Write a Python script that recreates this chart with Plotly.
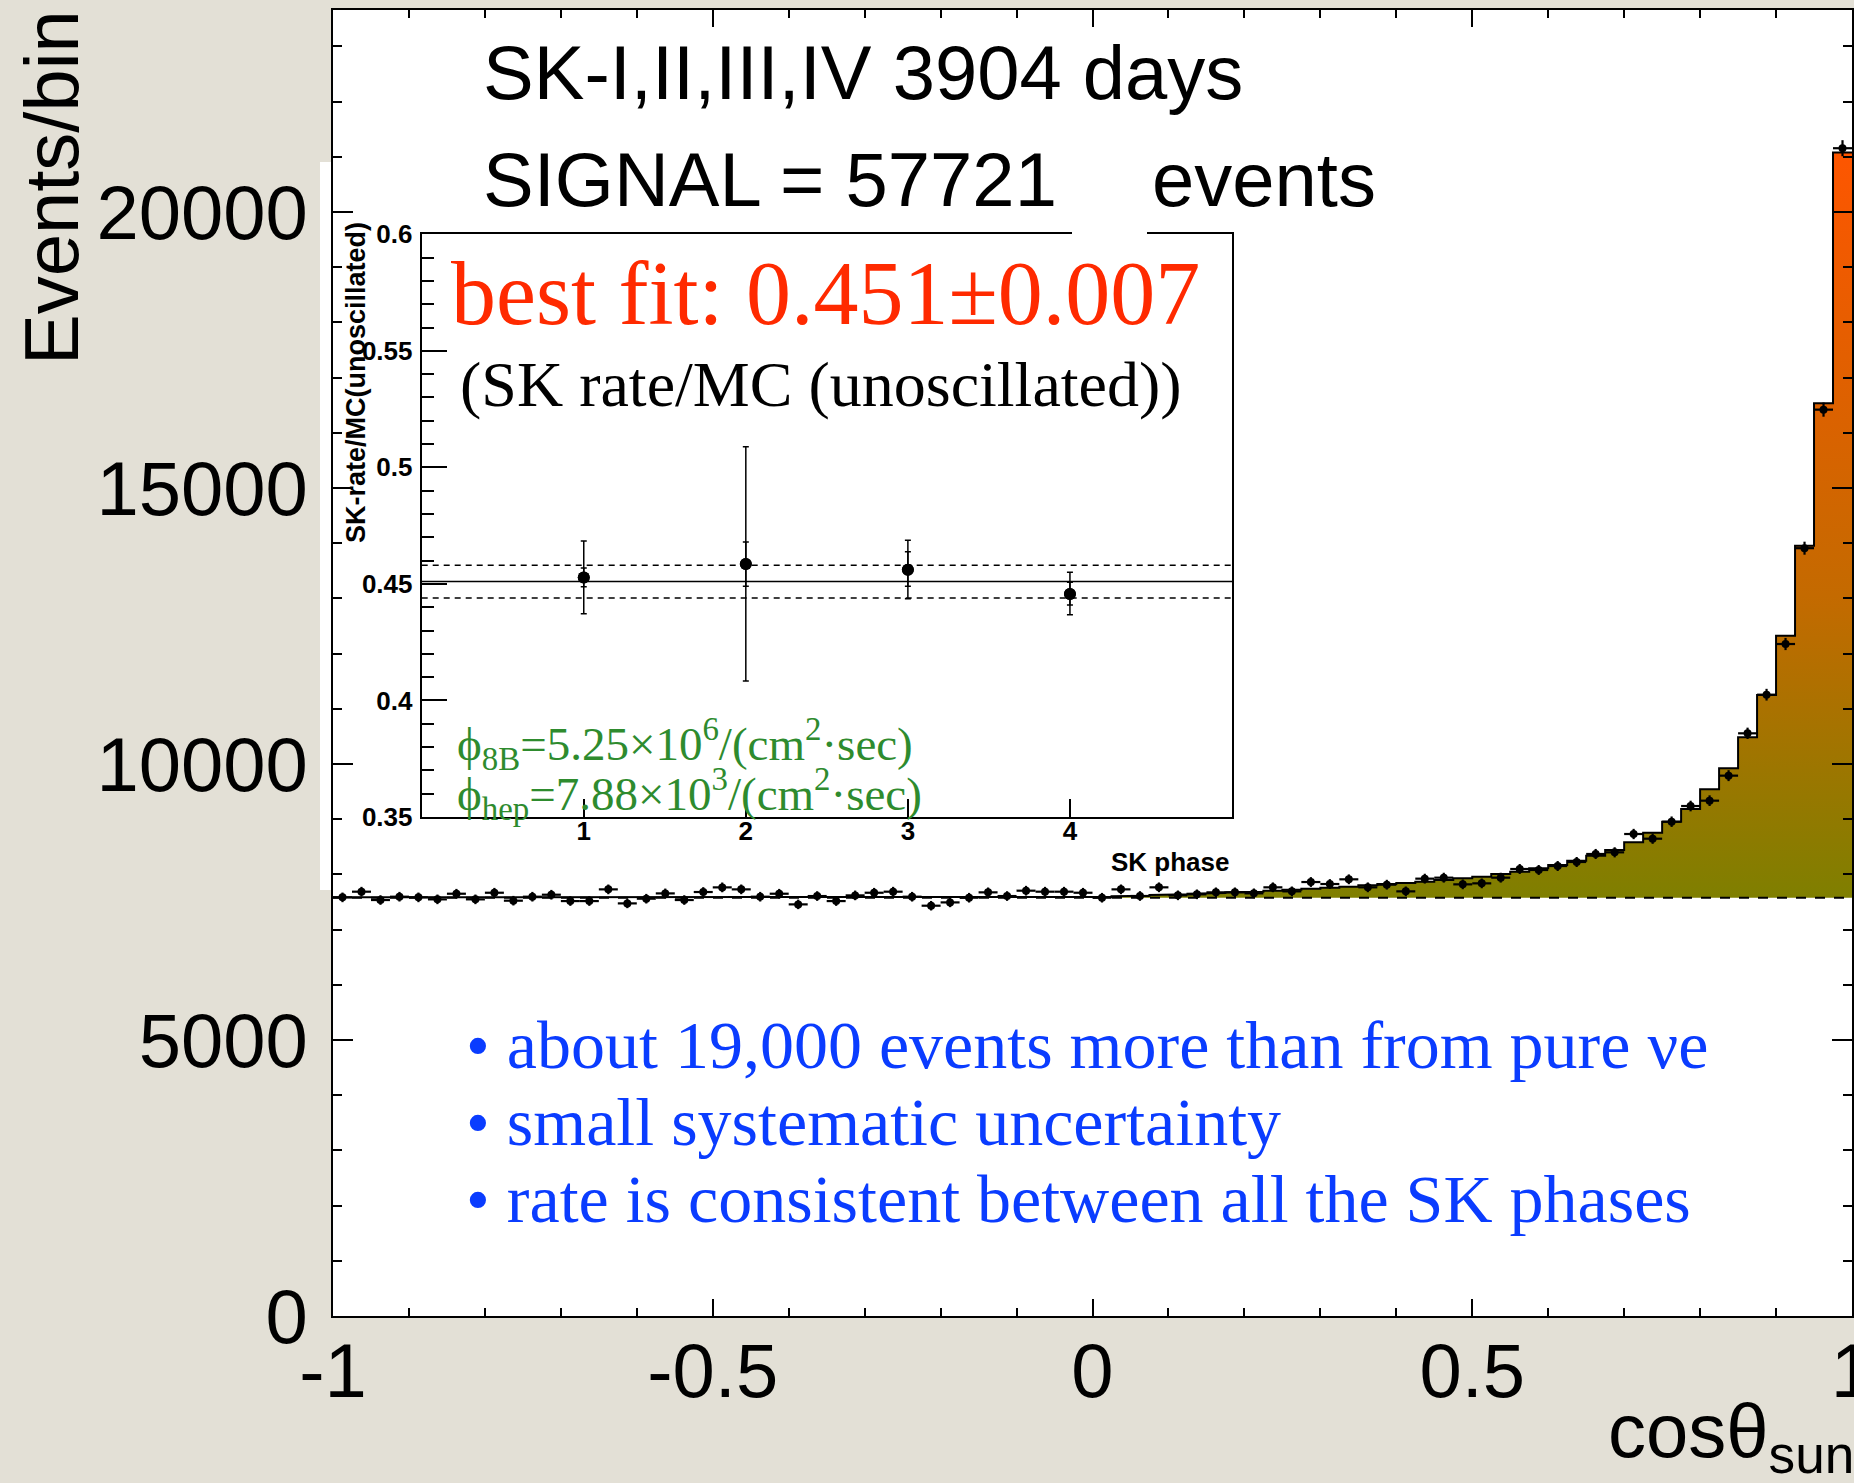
import numpy as np
import plotly.graph_objects as go

# ---- binned cos(theta_sun) distribution, 80 bins from -1 to 1 ----
bin_edges = np.linspace(-1.0, 1.0, 81)
bin_centers = 0.5 * (bin_edges[:-1] + bin_edges[1:])

data_counts = [
    7584, 7687, 7536, 7596, 7584, 7548, 7650, 7548, 7668, 7524,
    7596, 7632, 7517, 7517, 7729, 7475, 7560, 7656, 7536, 7681,
    7765, 7729, 7596, 7650, 7457, 7608, 7517, 7620, 7668, 7687,
    7596, 7433, 7493, 7578, 7675, 7608, 7705, 7687, 7687, 7668,
    7578, 7729, 7609, 7766, 7621, 7639, 7675, 7675, 7657, 7766,
    7693, 7862, 7826, 7911, 7766, 7814, 7693, 7923, 7941, 7820,
    7838, 7941, 8098, 8080, 8152, 8225, 8370, 8400, 8732, 8647,
    8955, 9239, 9336, 9789, 10556, 11256, 12174, 13910, 16420, 21156,
]

mc_counts = [
    7585, 7585, 7585, 7585, 7585, 7585, 7585, 7585, 7585, 7585,
    7585, 7585, 7585, 7585, 7585, 7585, 7585, 7585, 7585, 7585,
    7585, 7585, 7585, 7585, 7585, 7585, 7585, 7585, 7585, 7585,
    7585, 7585, 7586, 7586, 7587, 7587, 7588, 7588, 7589, 7589,
    7592, 7603, 7615, 7627, 7639, 7651, 7663, 7675, 7687, 7705,
    7723, 7742, 7760, 7778, 7802, 7826, 7844, 7869, 7899, 7929,
    7959, 8007, 8050, 8110, 8170, 8249, 8339, 8442, 8581, 8756,
    8955, 9185, 9541, 9922, 10483, 11250, 12325, 13955, 16534, 21080,
]

background_level = 7578

x_tick_vals = [-1, -0.5, 0, 0.5, 1]
x_tick_text = ["-1", "-0.5", "0", "0.5", "1"]
y_tick_vals = [0, 5000, 10000, 15000, 20000]
y_tick_text = ["0", "5000", "10000", "15000", "20000"]

# ---- rate ratio per SK phase ----
sk_phase = [1, 2, 3, 4]
ratio = [0.4528, 0.4585, 0.4561, 0.4457]
ratio_tot_up = [0.0156, 0.0504, 0.0126, 0.0093]
ratio_tot_dn = [0.0156, 0.0501, 0.0125, 0.0089]
ratio_stat_up = [0.0040, 0.0095, 0.0077, 0.0050]
ratio_stat_dn = [0.0040, 0.0095, 0.0071, 0.0047]
best_fit = 0.451
best_fit_err = 0.007
inset_y_ticks = [0.35, 0.4, 0.45, 0.5, 0.55, 0.6]
inset_y_text = ["0.35", "0.4", "0.45", "0.5", "0.55", "0.6"]

# ---- page geometry (pixels) ----
W, H = 1854, 1483
L, R, T, B = 333, 1852, 10, 1316


def px(x):
    return (x - L) / (R - L)


def py(y):
    return (B - y) / (B - T)


data_counts = np.array(data_counts, dtype=float)
mc_counts = np.array(mc_counts, dtype=float)

# step outline of the MC expectation
step_x = np.repeat(bin_edges, 2)[1:-1]
step_y = np.repeat(mc_counts, 2)

fig = go.Figure()

# signal region between background and MC, with vertical colour gradient
fig.add_trace(go.Scatter(
    x=np.concatenate([step_x, [bin_edges[-1], bin_edges[0]]]),
    y=np.concatenate([step_y, [background_level, background_level]]),
    mode="lines", line=dict(width=0), fill="toself",
    fillgradient=dict(type="vertical",
                      colorscale=[[0, "#7f7f00"], [0.4, "#c46a00"], [1, "#ff5500"]],
                      start=background_level, stop=21300),
    hoverinfo="skip", showlegend=False,
))

# flat background level
fig.add_trace(go.Scatter(
    x=[bin_edges[0], bin_edges[-1]], y=[background_level, background_level],
    mode="lines", line=dict(color="black", width=2, dash="10px,9px"),
    showlegend=False, hoverinfo="skip",
))

# MC histogram outline
fig.add_trace(go.Scatter(
    x=step_x, y=step_y, mode="lines",
    line=dict(color="black", width=2), showlegend=False, hoverinfo="skip",
))

# data points
fig.add_trace(go.Scatter(
    x=bin_centers, y=data_counts, mode="markers",
    marker=dict(color="black", size=8),
    error_x=dict(type="constant", value=(bin_edges[1] - bin_edges[0]) / 2,
                 color="black", thickness=2.2, width=0),
    error_y=dict(type="data", array=np.sqrt(data_counts),
                 color="black", thickness=2.2, width=0),
    showlegend=False,
))

# ---- inset: rate / MC per phase ----
for lvl, dash in [(best_fit, "solid"), (best_fit + best_fit_err, "6px,5px"),
                  (best_fit - best_fit_err, "6px,5px")]:
    fig.add_trace(go.Scatter(
        x=[0, 5], y=[lvl, lvl], mode="lines", xaxis="x2", yaxis="y2",
        line=dict(color="black", width=1.5, dash=dash),
        showlegend=False, hoverinfo="skip",
    ))

fig.add_trace(go.Scatter(
    x=sk_phase, y=ratio, mode="markers", xaxis="x2", yaxis="y2",
    marker=dict(color="black", size=12),
    error_y=dict(type="data", symmetric=False, array=ratio_tot_up,
                 arrayminus=ratio_tot_dn, color="black", thickness=1.5, width=3),
    showlegend=False,
))
fig.add_trace(go.Scatter(
    x=sk_phase, y=ratio, mode="markers", xaxis="x2", yaxis="y2",
    marker=dict(color="black", size=12),
    error_y=dict(type="data", symmetric=False, array=ratio_stat_up,
                 arrayminus=ratio_stat_dn, color="black", thickness=1.5, width=3),
    showlegend=False,
))

sans = "Liberation Sans, Arial, sans-serif"
serif = "Liberation Serif, Times New Roman, serif"

fig.update_layout(
    width=W, height=H,
    margin=dict(l=L, r=W - R, t=T, b=H - B, autoexpand=False),
    paper_bgcolor="#e3e0d6",
    plot_bgcolor="white",
    font=dict(family=sans, color="black"),
    xaxis=dict(
        range=[-1, 1], tickvals=x_tick_vals, ticktext=x_tick_text,
        ticks="inside", ticklen=17, tickwidth=1.5, tickcolor="black",
        minor=dict(ticks="inside", dtick=0.1, ticklen=8, tickwidth=1.5, tickcolor="black"),
        showline=True, linecolor="black", linewidth=2, mirror="allticks",
        showgrid=False, zeroline=False,
        tickfont=dict(size=76, family=sans), ticklabelstandoff=-12,
        ticklabeloverflow="allow", automargin=False,
    ),
    yaxis=dict(
        range=[0, 23660], tickvals=y_tick_vals, ticktext=y_tick_text,
        ticks="inside", ticklen=20, tickwidth=1.5, tickcolor="black",
        minor=dict(ticks="inside", dtick=1000, ticklen=9, tickwidth=1.5, tickcolor="black"),
        showline=True, linecolor="black", linewidth=2, mirror="allticks",
        showgrid=False, zeroline=False,
        tickfont=dict(size=76, family=sans), ticklabelstandoff=8,
        ticklabeloverflow="allow", automargin=False,
    ),
    xaxis2=dict(
        domain=[px(421.7), px(1232)], anchor="y2", range=[0, 5],
        tickvals=sk_phase, ticks="inside", ticklen=18, tickwidth=1.5, tickcolor="black",
        showline=True, linecolor="black", linewidth=2, mirror=True,
        showgrid=False, zeroline=False,
        tickfont=dict(size=26, family=sans, weight="bold"), ticklabelstandoff=-10,
    ),
    yaxis2=dict(
        domain=[py(817), py(234.3)], anchor="x2", range=[0.35, 0.6],
        tickvals=inset_y_ticks, ticktext=inset_y_text,
        ticks="inside", ticklen=25, tickwidth=1.5, tickcolor="black",
        minor=dict(ticks="inside", dtick=0.01, ticklen=12, tickwidth=1.5, tickcolor="black"),
        showline=True, linecolor="black", linewidth=2, mirror=True,
        showgrid=False, zeroline=False,
        tickfont=dict(size=26, family=sans, weight="bold"), ticklabelstandoff=2,
    ),
    shapes=[
        # white pad of the inset, showing left of the main frame
        dict(type="rect", xref="paper", yref="paper", layer="below",
             x0=px(320), x1=px(333), y0=py(890), y1=py(162),
             fillcolor="white", line=dict(width=0)),
        # white box behind the gap in the signal line
        dict(type="rect", xref="paper", yref="paper", layer="above",
             x0=px(1072), x1=px(1147), y0=py(241), y1=py(228),
             fillcolor="white", line=dict(width=0)),
    ],
)

ann = []


def text(s, x, y, size, family=sans, color="black", xanchor="left", yanchor="middle", angle=0):
    ann.append(dict(text=s, x=px(x), y=py(y), xref="paper", yref="paper",
                    xanchor=xanchor, yanchor=yanchor, showarrow=False, textangle=angle,
                    font=dict(size=size, family=family, color=color)))


text("SK-I,II,III,IV 3904 days", 481, 72, 76)
text("SIGNAL = 57721", 481, 180, 76)
text("events", 1150, 180, 76)
text("best fit: 0.451±0.007", 449, 294, 90, serif, "#ff2a00")
text("(SK rate/MC (unoscillated))", 458, 384, 64, serif)
green = "#2e8b2e"
text("ϕ<sub>8B</sub>=5.25×10<sup>6</sup>/(cm<sup>2</sup>·sec)", 455, 744, 47, serif, green)
text("ϕ<sub>hep</sub>=7.88×10<sup>3</sup>/(cm<sup>2</sup>·sec)", 455, 794, 47, serif, green)
blue = "#0a3cff"
text("• about 19,000 events more than from pure νe", 464, 1045, 68, serif, blue)
text("• small systematic uncertainty", 464, 1122, 68, serif, blue)
text("• rate is consistent between all the SK phases", 464, 1199, 68, serif, blue)
text("<b>SK phase</b>", 1232, 862, 26, xanchor="right")
text("<b>SK-rate/MC(unoscillated)</b>", 356, 383, 27, xanchor="center", angle=-90)
text("Events/bin", 51, 188, 76, xanchor="center", angle=-90)
text("cosθ<sub>sun</sub>", 1856, 1436, 76, xanchor="right")

fig.update_layout(annotations=ann)

fig.write_html("out.html")
